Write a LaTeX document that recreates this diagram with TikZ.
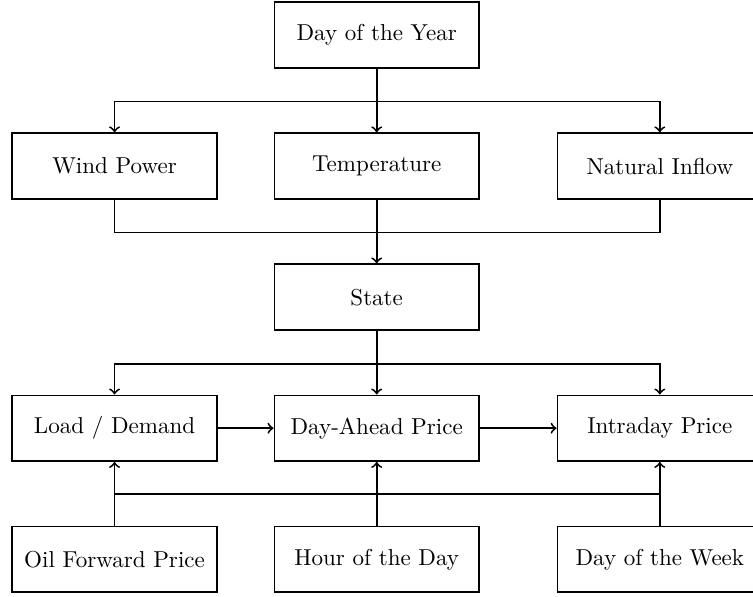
\documentclass[tikz,border=0pt]{standalone}
\usepackage{tikz}
\usetikzlibrary{calc}

\begin{document}
\begin{tikzpicture}[thick, box/.style = {draw, minimum width=3.12cm, minimum height=1cm}]
  \useasboundingbox (-5.748,0.534) rectangle (5.742,-8.575);
  \node[box] (doy) at (0,0) {Day of the Year};
  \node[box] (wind) at (-4,-2) {Wind Power};
  \node[box] (temp) at (0,-2) {Temperature};
  \node[box] (inflow) at (4.32,-2) {Natural Inflow};
  \node[box] (state) at (0,-4) {State};
  \node[box] (load) at (-4,-6) {Load / Demand};
  \node[box] (dap) at (0,-6) {Day-Ahead Price};
  \node[box] (intra) at (4.32,-6) {Intraday Price};
  \node[box] (oil) at (-4,-8) {Oil Forward Price};
  \node[box] (hour) at (0,-8) {Hour of the Day};
  \node[box] (dow) at (4.32,-8) {Day of the Week};

  \draw[->] (doy) -- (temp);
  \draw[->] (doy.south) -- ++(0,-0.5) -| (wind);
  \draw[->] (doy.south) -- ++(0,-0.5) -| (inflow);
  \draw (wind.south) -- ++(0,-0.5) -| (inflow.south);
  \draw[->] (temp) -- (state);
  \draw[->] (state) -- (dap);
  \draw[->] (state.south) -- ++(0,-0.5) -| (load);
  \draw[->] (state.south) -- ++(0,-0.5) -| (intra);
  \draw[->] (load) -- (dap);
  \draw[->] (dap) -- (intra);
  \draw[->] (oil) -- (load);
  \draw[->] (hour) -- (dap);
  \draw[->] (dow) -- (intra);
  \draw ($(oil.north)!.5!(load.south)$) -- ($(dow.north)!.5!(intra.south)$);
\end{tikzpicture}
\end{document}
